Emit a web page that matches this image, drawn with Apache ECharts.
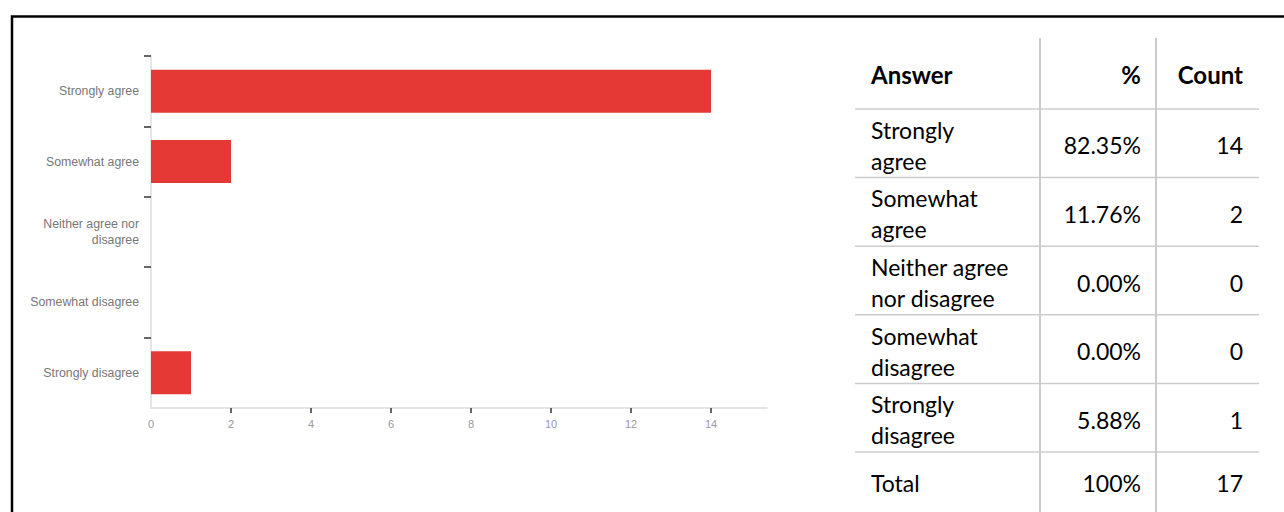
<!DOCTYPE html>
<html>
<head>
<meta charset="utf-8">
<script src="https://cdn.jsdelivr.net/npm/echarts@6/dist/echarts.min.js"></script>
<style>
  html, body { margin: 0; padding: 0; background: #fff; }
  #chart { width: 1284px; height: 512px; }
</style>
</head>
<body>
<div id="chart"></div>
<script>
// ---- data ----
const categories = ['Strongly agree', 'Somewhat agree', 'Neither agree nor disagree', 'Somewhat disagree', 'Strongly disagree'];
const counts = [14, 2, 0, 0, 1];
const percents = ['82.35%', '11.76%', '0.00%', '0.00%', '5.88%'];
const tableAnswers = ['Strongly\nagree', 'Somewhat\nagree', 'Neither agree\nnor disagree', 'Somewhat\ndisagree', 'Strongly\ndisagree'];
const xTicks = [2, 4, 6, 8, 10, 12, 14];
const xLabels = [0, 2, 4, 6, 8, 10, 12, 14];
const tableHeaders = ['Answer', '%', 'Count'];
const totalRow = ['Total', '100%', '17'];

// ---- layout ----
const grid = { left: 151, top: 56, width: 616, height: 352 };
const tbl = {
  left: 855, right: 1259, top: 38, headerBottom: 109, rowH: 68.6,
  col1: 1040, col2: 1156, textLeft: 871, pctRight: 1141, cntRight: 1243, bottom: 512
};
const lineColor = '#cccccc';
const tableFont = 'Lato, "Open Sans", sans-serif';

const graphics = [];
// frame
graphics.push({
  type: 'rect', shape: { x: 12, y: 16.5, width: 1400, height: 700 },
  style: { fill: 'none', stroke: '#000', lineWidth: 2.5 }, silent: true, z: 10
});
// vertical table lines
[tbl.col1, tbl.col2].forEach(x => graphics.push({
  type: 'line', shape: { x1: x, y1: tbl.top, x2: x, y2: tbl.bottom },
  style: { stroke: lineColor, lineWidth: 2 }, silent: true
}));
// horizontal table lines
for (let i = 0; i <= categories.length; i++) {
  const y = tbl.headerBottom + i * tbl.rowH;
  graphics.push({
    type: 'line', shape: { x1: tbl.left, y1: y, x2: tbl.right, y2: y },
    style: { stroke: lineColor, lineWidth: 1.5 }, silent: true
  });
}
function cellText(text, x, y, align, bold) {
  graphics.push({
    type: 'text', x: x, y: y, silent: true,
    style: {
      text: text, fill: '#000', align: align, verticalAlign: 'middle',
      font: (bold ? 'bold 24px ' : '23px ') + tableFont, lineHeight: 31
    }
  });
}
// header
const hy = (tbl.top + tbl.headerBottom) / 2 + 1;
cellText(tableHeaders[0], tbl.textLeft, hy, 'left', true);
cellText(tableHeaders[1], tbl.pctRight, hy, 'right', true);
cellText(tableHeaders[2], tbl.cntRight, hy, 'right', true);
// rows
for (let i = 0; i < categories.length; i++) {
  const cy = tbl.headerBottom + (i + 0.5) * tbl.rowH + 2;
  cellText(tableAnswers[i], tbl.textLeft, cy, 'left', false);
  cellText(percents[i], tbl.pctRight, cy, 'right', false);
  cellText(String(counts[i]), tbl.cntRight, cy, 'right', false);
}
// total
const ty = tbl.headerBottom + categories.length * tbl.rowH + 31;
cellText(totalRow[0], tbl.textLeft, ty, 'left', false);
cellText(totalRow[1], tbl.pctRight, ty, 'right', false);
cellText(totalRow[2], tbl.cntRight, ty, 'right', false);

// bottom-up order for the category axis (first answer on top)
const catsBottomUp = categories.slice().reverse();
const countsBottomUp = counts.slice().reverse();

const chart = echarts.init(document.getElementById('chart'), null, { renderer: 'svg' });
chart.setOption({
  animation: false,
  backgroundColor: '#fff',
  grid: grid,
  xAxis: {
    type: 'value', min: 0, max: 15.4,
    axisLine: { show: true, lineStyle: { color: '#dddddd', width: 1.5 } },
    axisTick: { show: true, length: 5, customValues: xTicks, lineStyle: { color: '#333', width: 1.5 } },
    axisLabel: { customValues: xLabels, color: '#999', fontSize: 11, margin: 10, fontFamily: '"Liberation Sans", Arial, sans-serif' },
    splitLine: { show: false }
  },
  yAxis: {
    type: 'category', data: catsBottomUp,
    axisLine: { show: true, lineStyle: { color: '#dddddd', width: 1.5 } },
    axisTick: { show: true, length: 7, interval: (idx) => idx !== 0, lineStyle: { color: '#333', width: 1.5 } },
    axisLabel: {
      color: '#777', fontSize: 12.3, margin: 12, lineHeight: 16, interval: 0,
      fontFamily: '"Liberation Sans", Arial, sans-serif',
      formatter: v => v === 'Neither agree nor disagree' ? 'Neither agree nor\ndisagree' : v
    }
  },
  series: [{
    type: 'bar', data: countsBottomUp, barWidth: 43,
    itemStyle: { color: '#e53935' }
  }],
  graphic: graphics
});
</script>
</body>
</html>
